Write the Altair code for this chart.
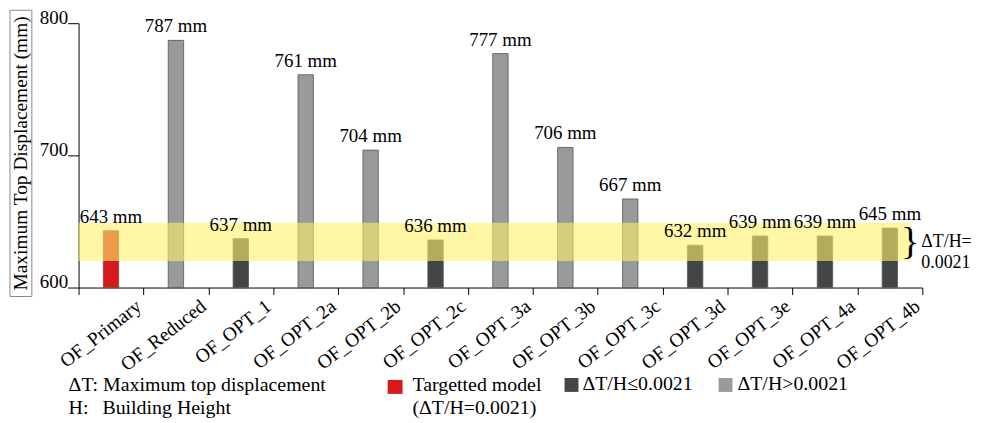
import altair as alt
import pandas as pd

categories = ["OF_Primary", "OF_Reduced", "OF_OPT_1", "OF_OPT_2a", "OF_OPT_2b", "OF_OPT_2c",
              "OF_OPT_3a", "OF_OPT_3b", "OF_OPT_3c", "OF_OPT_3d", "OF_OPT_3e", "OF_OPT_4a", "OF_OPT_4b"]
values = [643, 787, 637, 761, 704, 636, 777, 706, 667, 632, 639, 639, 645]
groups = ["Targetted", "Above", "Below", "Above", "Above", "Below", "Above",
          "Above", "Above", "Below", "Below", "Below", "Below"]
band_low, band_high = 620, 649
y_ticks = [600, 700, 800]

W, H = 849, 266
FONT = "Liberation Serif"

df = pd.DataFrame({"cat": categories, "val": values, "grp": groups})
df["label"] = [f"{v} mm" for v in values]

xenc = alt.X("cat:N", sort=categories, title=None,
             scale=alt.Scale(paddingInner=0, paddingOuter=0),
             axis=alt.Axis(labelAngle=-38, labelAlign="right", labelBaseline="top",
                           labelOffset=22, labelPadding=2, tickSize=7, tickBand="extent",
                           labelFont=FONT, labelFontSize=19.5, labelColor="black",
                           domainColor="black", tickColor="black", grid=False))
yscale = alt.Scale(domain=[600, 800], zero=False, nice=False)
yenc = alt.Y("val:Q", scale=yscale, title=None,
             axis=alt.Axis(values=y_ticks, tickSize=11, labelPadding=0, labelBaseline="alphabetic",
                           labelFont=FONT, labelFontSize=19, labelColor="black",
                           domainColor="black", tickColor="black", grid=False))

bars = alt.Chart(df).mark_bar(width=15.5, stroke="#555555", strokeWidth=0.8).encode(
    x=xenc,
    y=yenc,
    y2=alt.datum(600),
    color=alt.Color("grp:N", scale=alt.Scale(domain=["Targetted", "Below", "Above"],
                                             range=["#d7191c", "#454545", "#9a9a9a"]), legend=None),
)

band = alt.Chart(pd.DataFrame({"lo": [band_low], "hi": [band_high]})).mark_rect(
    color="#fff06a", opacity=0.6).encode(
    x=alt.value(0), x2=alt.value(838),
    y=alt.Y("lo:Q", scale=yscale), y2="hi:Q")

labels = alt.Chart(df).mark_text(font=FONT, fontSize=19, baseline="alphabetic", dy=-8, color="black").encode(
    x=alt.X("cat:N", sort=categories), y=alt.Y("val:Q", scale=yscale), text="label:N")

def txt(s, x, y, size=20, align="left", baseline="alphabetic", angle=0, weight="normal"):
    return alt.Chart(pd.DataFrame({"t": [s]})).mark_text(
        font=FONT, fontSize=size, align=align, baseline=baseline, angle=angle,
        color="black", fontWeight=weight).encode(
        x=alt.value(x), y=alt.value(y), text="t:N")

def box(x, x2, y, y2, fill):
    return alt.Chart(pd.DataFrame({"a": [0]})).mark_rect(fill=fill).encode(
        x=alt.value(x), x2=alt.value(x2), y=alt.value(y), y2=alt.value(y2))

title_box = alt.Chart(pd.DataFrame({"a": [0]})).mark_rect(
    fill="white", fillOpacity=0, stroke="#888888", strokeWidth=1).encode(
    x=alt.value(-69), x2=alt.value(-47), y=alt.value(-13), y2=alt.value(275))

layers = [
    bars, band, labels,
    title_box,
    txt("Maximum Top Displacement (mm)", -58, 131, size=19.5, align="center", baseline="middle", angle=270),
    txt("}", 846, 221, size=38, align="right", baseline="middle", weight="lighter"),
    txt("ΔT/H=", 848, 225, size=18),
    txt("0.0021", 848, 246, size=18),
    txt("ΔT: Maximum top displacement", -10, 370),
    txt("H:", -10, 393),
    txt("Building Height", 24, 393),
    box(311, 326, 359, 373, "#d7191c"),
    txt("Targetted model", 336, 370),
    txt("(ΔT/H=0.0021)", 336, 393),
    box(489, 503, 357, 371, "#454545"),
    txt("ΔT/H≤0.0021", 507, 369),
    box(644, 658, 357, 371, "#9a9a9a"),
    txt("ΔT/H>0.0021", 663, 369),
]

chart = alt.layer(*layers).properties(
    width=W, height=H,
    autosize=alt.AutoSizeParams(type="none"),
    padding={"left": 71, "top": 14, "right": 52, "bottom": 134},
).configure_view(stroke=None)

chart.save("out.html", embed_options={"renderer": "svg", "actions": False})
